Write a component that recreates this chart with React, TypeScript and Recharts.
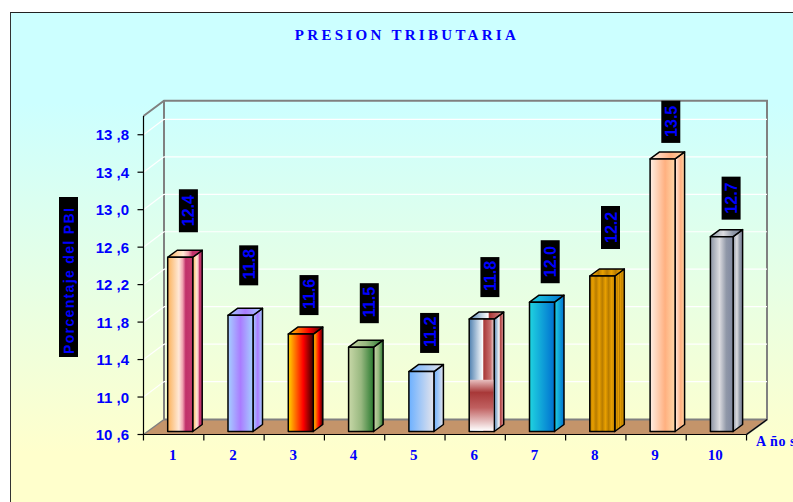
import { BarChart, Bar, XAxis, YAxis, CartesianGrid, LabelList } from 'recharts';

const years = ['1', '2', '3', '4', '5', '6', '7', '8', '9', '10'];
const presion = [12.46, 11.84, 11.64, 11.5, 11.24, 11.8, 11.98, 12.26, 13.51, 12.68];
const rotulos = ['12.4', '11.8', '11.6', '11.5', '11.2', '11.8', '12.0', '12.2', '13.5', '12.7'];
const yTicks = [10.6, 11.0, 11.4, 11.8, 12.2, 12.6, 13.0, 13.4, 13.8];

const data = years.map((name, i) => ({ name, presion: presion[i], rotulo: rotulos[i] }));

// gap between top of the bar and its black label box
const labelGaps = [25, 30, 19, 24, 18.6, 22, 19, 27, 16, 17];

const barFills: { stops: [number, string][]; repeat?: number }[] = [
    { stops: [[0, '#fbb25a'], [45, '#ffe9d8'], [60, '#f0a0b0'], [72, '#c0306a'], [100, '#c83a70']] },
    { stops: [[0, '#a4d0ff'], [50, '#aa7cff'], [100, '#a4d0ff']] },
    { stops: [[0, '#ffd400'], [60, '#ff0000'], [100, '#3c0000']] },
    { stops: [[0, '#c8d8a8'], [50, '#98b880'], [100, '#2a7a30']] },
    { stops: [[0, '#6cb0ff'], [100, '#e4e4ec']] },
    { stops: [[0, '#4f80b0'], [55, '#ffffff'], [58, '#a83838'], [85, '#c87070'], [100, '#eee0e0']] },
    { stops: [[0, '#20d4e0'], [100, '#0070d0']] },
    { stops: [[0, '#b87c00'], [50, '#e8a000'], [100, '#b87c00']], repeat: 0.25 },
    { stops: [[0, '#ffeee4'], [60, '#ffb080'], [100, '#ffd8a8']] },
    { stops: [[0, '#8c94a4'], [40, '#dcdce0'], [70, '#9098a8'], [100, '#8088a0']] },
];

const BLUE = '#0000ff';
const SHIFT_X = 6.2;
const SHIFT_Y = -3;
const DEPTH_X = 9.5;
const DEPTH_Y = 7;
const WALL_X = 20.5;
const WALL_Y = 15.4;
const HALF_BAND = 30.18;
const TICK_GAP = 8; // recharts moves custom ticks away from the axis by this much

const Box3D = (props: any) => {
    const { x, y, width, height, index } = props;
    const left = x + SHIFT_X;
    const top = y + SHIFT_Y;
    const w = index === 9 ? 22.7 : width;
    const fill = `url(#barFill${index})`;
    const edge = { stroke: '#000', strokeWidth: 1.5, strokeLinejoin: 'round' as const };
    return (
        <g>
            <polygon
                points={`${left + w},${top} ${left + w + DEPTH_X},${top - DEPTH_Y} ${left + w + DEPTH_X},${top + height - DEPTH_Y} ${left + w},${top + height}`}
                fill={fill}
                {...edge}
            />
            <polygon
                points={`${left},${top} ${left + DEPTH_X},${top - DEPTH_Y} ${left + w + DEPTH_X},${top - DEPTH_Y} ${left + w},${top}`}
                fill={fill}
                {...edge}
            />
            <rect x={left} y={top} width={w} height={height} fill={fill} {...edge} />
            {index === 5 && (
                <rect x={left + 0.8} y={top + height * 0.54} width={w - 1.6} height={height * 0.46 - 0.8} fill="url(#barFillLow)" />
            )}
        </g>
    );
};

const BarLabel = (props: any) => {
    const { x, y, index, value } = props;
    const bottom = y + SHIFT_Y - labelGaps[index];
    const h = String(value).startsWith('11') ? 40 : 43;
    const left = x + SHIFT_X + 11.2;
    return (
        <g clipPath="url(#labelClip)">
            <rect x={left} y={bottom - h} width={19} height={h} fill="#000" />
            <text
                transform={`translate(${left + 15.5},${bottom - 6}) rotate(-90)`}
                fontFamily="'Liberation Sans', Arial, sans-serif"
                fontWeight="bold"
                fontSize={16}
                fill={BLUE}
            >
                {value}
            </text>
        </g>
    );
};

const YTick = (props: any) => {
    const { x, y, payload } = props;
    const [a, b] = payload.value.toFixed(1).split('.');
    const axis = x + TICK_GAP;
    return (
        <g>
            <line x1={axis - 6} x2={axis} y1={y} y2={y} stroke="#000" strokeWidth={1.2} />
            <text
                x={axis - 14.5}
                y={y + 5.5}
                textAnchor="end"
                fontFamily="'Liberation Sans', Arial, sans-serif"
                fontWeight="bold"
                fontSize={15}
                fill={BLUE}
            >
                {`${a} ,${b}`}
            </text>
        </g>
    );
};

const XTick = (props: any) => {
    const { x, y, payload, index } = props;
    const axis = y - TICK_GAP;
    return (
        <g>
            {index === 0 && <line x1={x - HALF_BAND} x2={x - HALF_BAND} y1={axis} y2={axis + 6} stroke="#000" strokeWidth={1.2} />}
            <line x1={x + HALF_BAND} x2={x + HALF_BAND} y1={axis} y2={axis + 6} stroke="#000" strokeWidth={1.2} />
            <text
                x={x - 1}
                y={axis + 25}
                textAnchor="middle"
                fontFamily="'Liberation Serif', 'Times New Roman', serif"
                fontWeight="bold"
                fontSize={15}
                fill={BLUE}
            >
                {payload.value}
            </text>
        </g>
    );
};

// white line on the back wall, plus the slanted one on the side wall
const GridLine = (props: any) => {
    const { x1, x2, y1 } = props;
    if (Math.abs(y1 - 434.5) < 1 || y1 < 120) return <g />;
    return (
        <g stroke="#fff" strokeWidth={1.2}>
            <line x1={x1} y1={y1} x2={x1 + WALL_X} y2={y1 - WALL_Y} />
            <line x1={x1 + WALL_X} y1={y1 - WALL_Y} x2={x2 + WALL_X} y2={y1 - WALL_Y} />
        </g>
    );
};

const App = () => {
    return (
        <div style={{ position: 'absolute', left: 0, top: 0, width: 793, height: 502, overflow: 'hidden', background: '#fff' }}>
            <div
                style={{
                    position: 'absolute',
                    left: 10,
                    top: 12,
                    width: 800,
                    height: 500,
                    borderLeft: '1.5px solid #333',
                    borderTop: '1.5px solid #222',
                    background: 'linear-gradient(#ccffff 0%, #ccffff 18%, #ffffcc 88%, #ffffcc 100%)',
                }}
            />
            <svg width={793} height={502} style={{ position: 'absolute', left: 0, top: 0 }}>
                <polygon points="143.5,434.5 164,419.5 767,419.5 746.5,434.5" fill="#c4946a" />
                <polyline points="143.5,116 164,100.7 767,100.7 767,419.5 746.5,434.5" fill="none" stroke="#808080" strokeWidth={2} />
                <line x1={164} x2={164} y1={100.7} y2={419.5} stroke="#808080" strokeWidth={2} />
                <line x1={164} x2={767} y1={419.5} y2={419.5} stroke="#808080" strokeWidth={2} />
                <line x1={164} x2={143.5} y1={419.5} y2={434.5} stroke="#808080" strokeWidth={1.5} />
                <line x1={767} x2={746.5} y1={419.5} y2={434.5} stroke="#000" strokeWidth={1.2} />
                <text
                    x={407}
                    y={40}
                    textAnchor="middle"
                    fontFamily="'Liberation Serif', 'Times New Roman', serif"
                    fontWeight="bold"
                    fontSize={15}
                    letterSpacing={3.3}
                    fill={BLUE}
                >
                    PRESION TRIBUTARIA
                </text>
                <rect x={59} y={197} width={19} height={160} fill="#000" />
                <text
                    transform="translate(73.5,354) rotate(-90)"
                    fontFamily="'Liberation Sans', Arial, sans-serif"
                    fontWeight="bold"
                    fontSize={14}
                    letterSpacing={1.35}
                    fill={BLUE}
                >
                    Porcentaje del PBI
                </text>
                <text
                    x={756}
                    y={446}
                    fontFamily="'Liberation Serif', 'Times New Roman', serif"
                    fontWeight="bold"
                    fontSize={14}
                    letterSpacing={0.6}
                    fill={BLUE}
                >
                    A ño s
                </text>
            </svg>
            <div style={{ position: 'absolute', left: 0, top: 0 }}>
                <BarChart
                    width={793}
                    height={502}
                    data={data}
                    barSize={25}
                    margin={{ top: 116, right: 46.5, left: 0, bottom: 0 }}
                >
                    <defs>
                        {barFills.map((f, i) => (
                            <linearGradient
                                key={i}
                                id={`barFill${i}`}
                                x1="0"
                                y1="0"
                                x2={f.repeat ?? 1}
                                y2="0"
                                spreadMethod={f.repeat ? 'repeat' : 'pad'}
                            >
                                {f.stops.map(([o, c]) => (
                                    <stop key={o} offset={`${o}%`} stopColor={c} />
                                ))}
                            </linearGradient>
                        ))}
                        <linearGradient id="barFillLow" x1="0" y1="0" x2="0" y2="1">
                            <stop offset="0%" stopColor="#e8c0c0" />
                            <stop offset="25%" stopColor="#a83838" />
                            <stop offset="55%" stopColor="#c06060" />
                            <stop offset="100%" stopColor="#fff" />
                        </linearGradient>
                        <clipPath id="labelClip">
                            <rect x={0} y={100.7} width={793} height={400} />
                        </clipPath>
                    </defs>
                    <CartesianGrid vertical={false} horizontal={GridLine} />
                    <XAxis
                        dataKey="name"
                        height={67.5}
                        interval={0}
                        axisLine={{ stroke: '#000', strokeWidth: 1.2 }}
                        tickLine={false}
                        tick={XTick}
                    />
                    <YAxis
                        width={143.5}
                        domain={[10.6, 14]}
                        ticks={yTicks}
                        interval={0}
                        allowDataOverflow
                        axisLine={{ stroke: '#000', strokeWidth: 1.2 }}
                        tickLine={false}
                        tick={YTick}
                    />
                    <Bar dataKey="presion" shape={Box3D} isAnimationActive={false}>
                        <LabelList dataKey="rotulo" content={BarLabel} />
                    </Bar>
                </BarChart>
            </div>
        </div>
    );
};

export default App;
